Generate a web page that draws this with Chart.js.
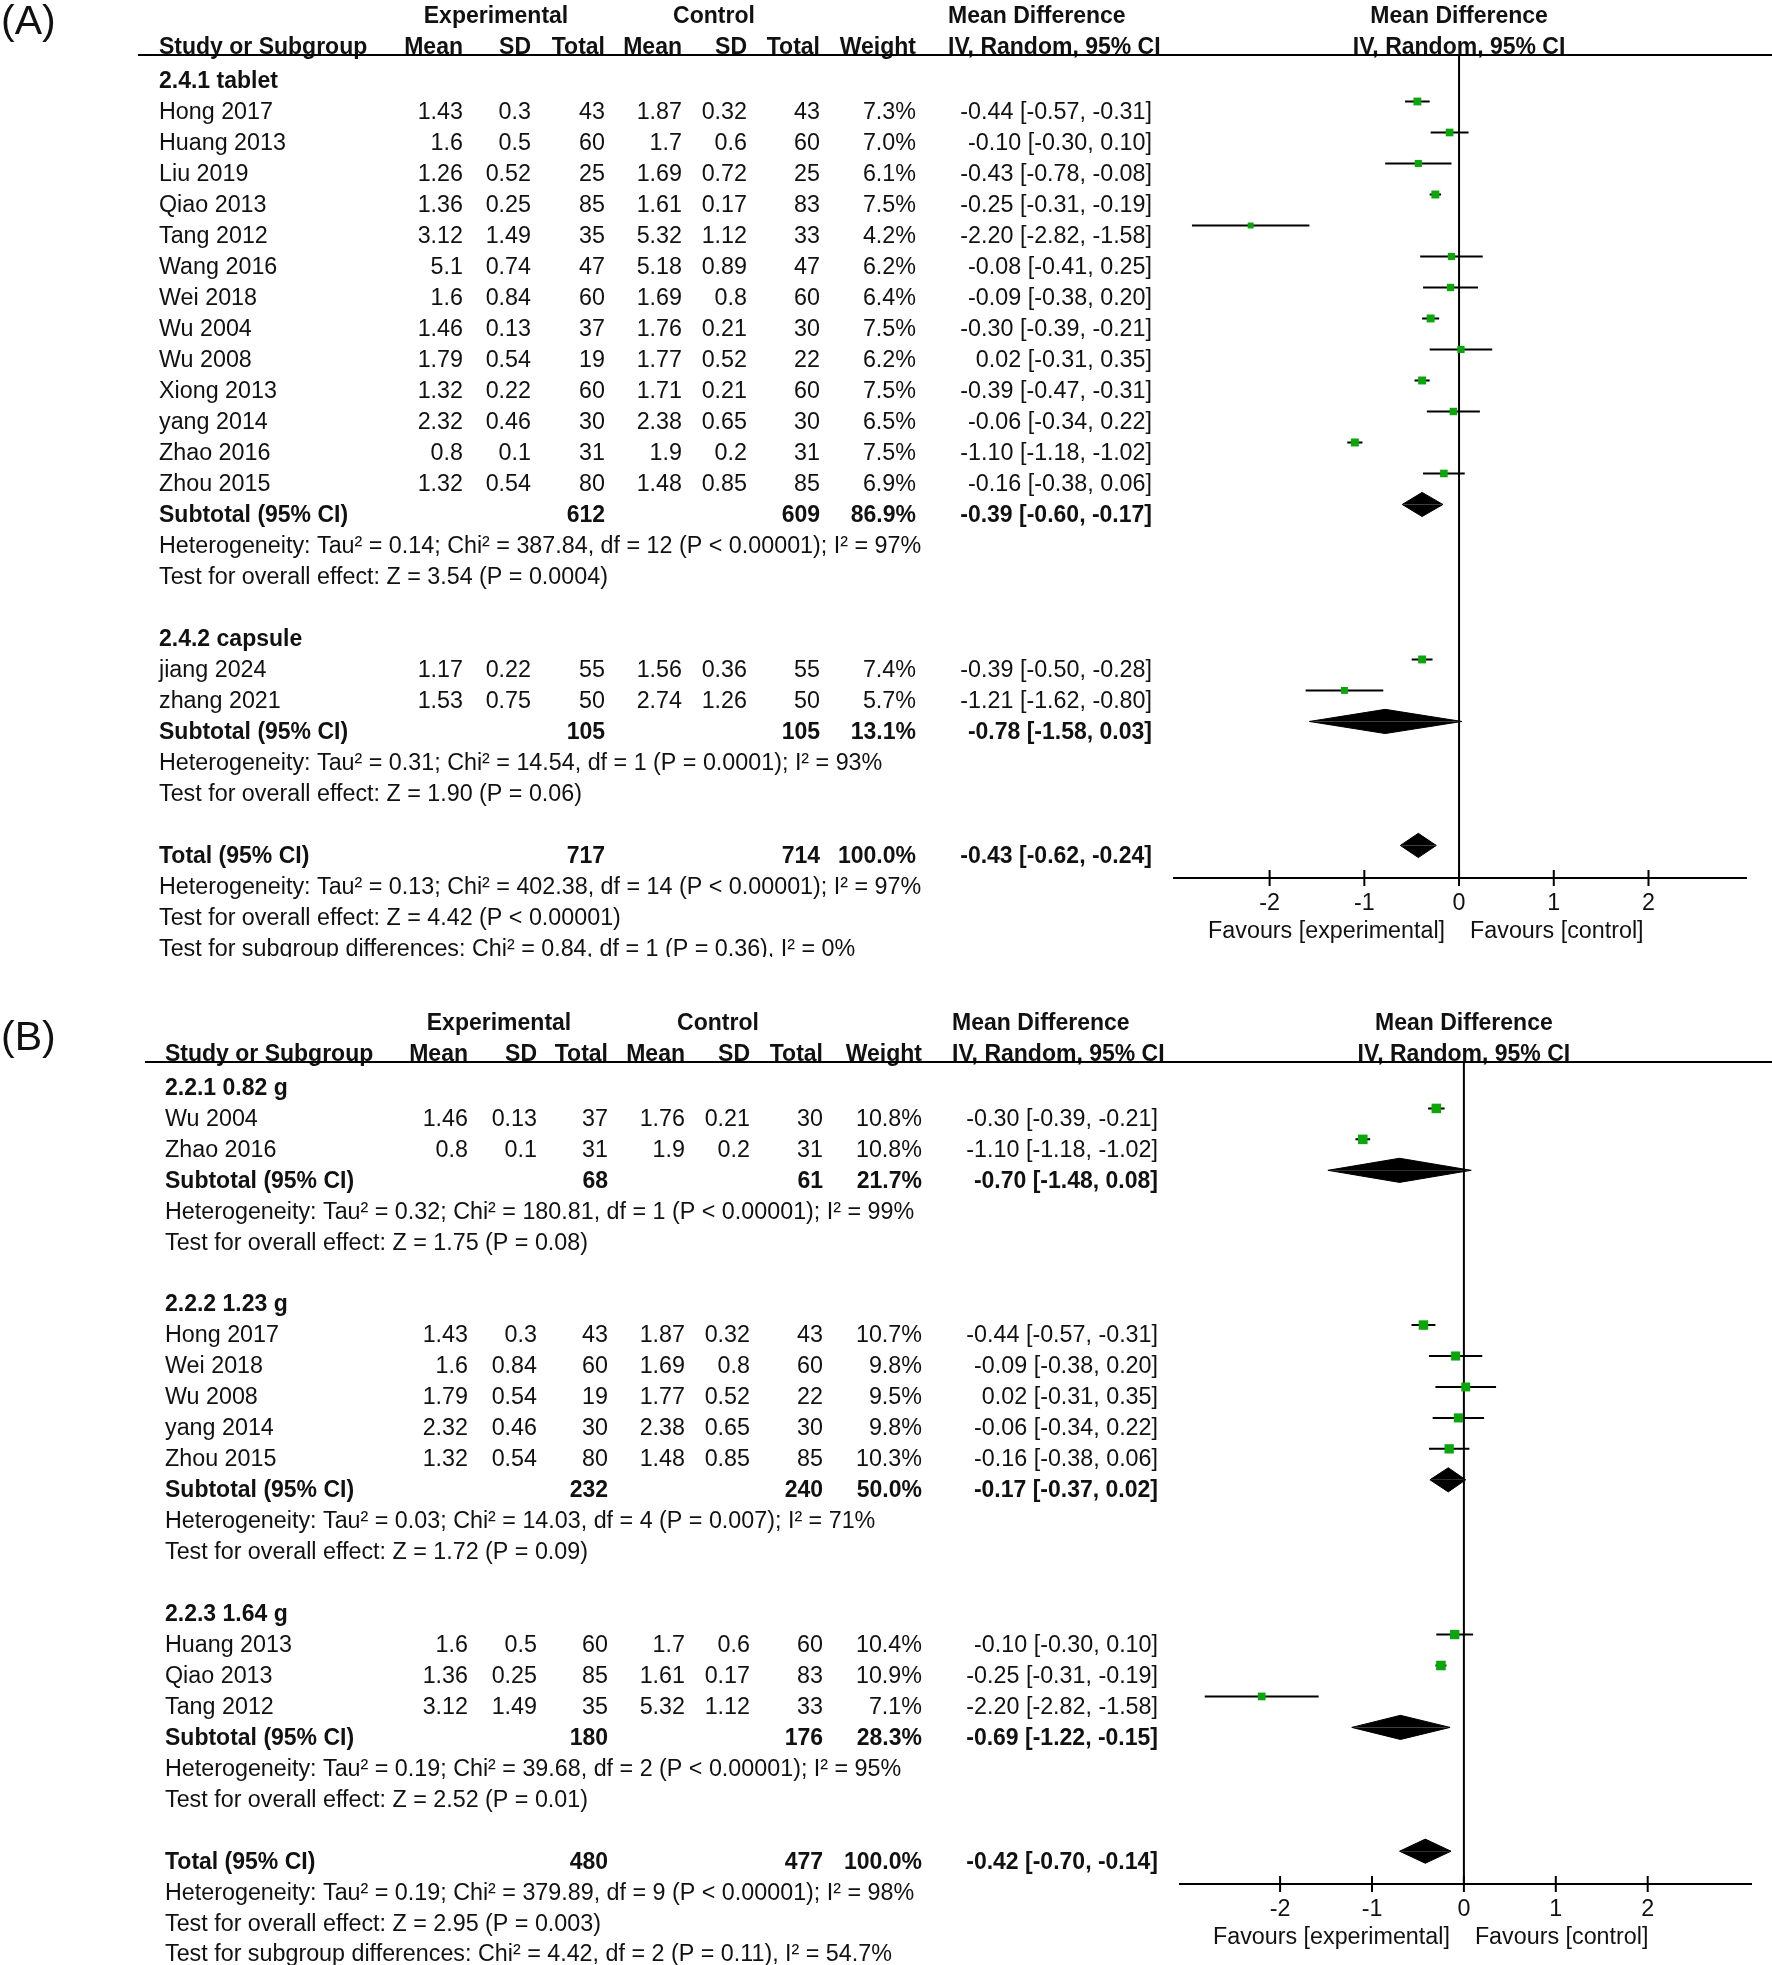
<!DOCTYPE html>
<html><head><meta charset="utf-8">
<script src="https://cdn.jsdelivr.net/npm/chart.js@4.4.1/dist/chart.umd.min.js"></script>
<style>
html,body{margin:0;padding:0;background:#fff;}
body{width:1772px;height:1965px;position:relative;overflow:hidden;}
canvas{position:absolute;left:0;}
#cA{top:0;} #cB{top:983px;}
</style></head><body>
<canvas id="cA" width="1772" height="957"></canvas>
<canvas id="cB" width="1772" height="982"></canvas>
<script>
// ---------- shared labels ----------
const tickValues = [-2, -1, 0, 1, 2];
const favoursLabels = ['Favours [experimental]', 'Favours [control]'];
const headerGroups = ['Experimental', 'Control'];
const colHeaders = ['Mean', 'SD', 'Total', 'Mean', 'SD', 'Total', 'Weight'];
const effectHeader = ['Mean Difference', 'IV, Random, 95% CI'];
const studyHeader = 'Study or Subgroup';

// ---------- Panel A data ----------
const studyA   = ['Hong 2017','Huang 2013','Liu 2019','Qiao 2013','Tang 2012','Wang 2016','Wei 2018','Wu 2004','Wu 2008','Xiong 2013','yang 2014','Zhao 2016','Zhou 2015','jiang 2024','zhang 2021'];
const groupA   = [0,0,0,0,0,0,0,0,0,0,0,0,0,1,1];
const expMeanA = [1.43,1.6,1.26,1.36,3.12,5.1,1.6,1.46,1.79,1.32,2.32,0.8,1.32,1.17,1.53];
const expSDA   = [0.3,0.5,0.52,0.25,1.49,0.74,0.84,0.13,0.54,0.22,0.46,0.1,0.54,0.22,0.75];
const expNA    = [43,60,25,85,35,47,60,37,19,60,30,31,80,55,50];
const ctlMeanA = [1.87,1.7,1.69,1.61,5.32,5.18,1.69,1.76,1.77,1.71,2.38,1.9,1.48,1.56,2.74];
const ctlSDA   = [0.32,0.6,0.72,0.17,1.12,0.89,0.8,0.21,0.52,0.21,0.65,0.2,0.85,0.36,1.26];
const ctlNA    = [43,60,25,83,33,47,60,30,22,60,30,31,85,55,50];
const weightA  = [7.3,7.0,6.1,7.5,4.2,6.2,6.4,7.5,6.2,7.5,6.5,7.5,6.9,7.4,5.7];
const mdA      = [-0.44,-0.10,-0.43,-0.25,-2.20,-0.08,-0.09,-0.30,0.02,-0.39,-0.06,-1.10,-0.16,-0.39,-1.21];
const loA      = [-0.57,-0.30,-0.78,-0.31,-2.82,-0.41,-0.38,-0.39,-0.31,-0.47,-0.34,-1.18,-0.38,-0.50,-1.62];
const hiA      = [-0.31,0.10,-0.08,-0.19,-1.58,0.25,0.20,-0.21,0.35,-0.31,0.22,-1.02,0.06,-0.28,-0.80];
const subLabelA  = ['2.4.1 tablet','2.4.2 capsule'];
const subExpNA   = [612,105];
const subCtlNA   = [609,105];
const subWeightA = [86.9,13.1];
const subMdA     = [-0.39,-0.78];
const subLoA     = [-0.60,-1.58];
const subHiA     = [-0.17,0.03];
const subHetA  = ['Heterogeneity: Tau² = 0.14; Chi² = 387.84, df = 12 (P < 0.00001); I² = 97%','Heterogeneity: Tau² = 0.31; Chi² = 14.54, df = 1 (P = 0.0001); I² = 93%'];
const subTestA = ['Test for overall effect: Z = 3.54 (P = 0.0004)','Test for overall effect: Z = 1.90 (P = 0.06)'];
const totalNA   = [717,714];
const totalEffA = [-0.43,-0.62,-0.24];
const totalTextA = ['Heterogeneity: Tau² = 0.13; Chi² = 402.38, df = 14 (P < 0.00001); I² = 97%','Test for overall effect: Z = 4.42 (P < 0.00001)','Test for subgroup differences: Chi² = 0.84, df = 1 (P = 0.36), I² = 0%'];

// ---------- Panel B data ----------
const studyB   = ['Wu 2004','Zhao 2016','Hong 2017','Wei 2018','Wu 2008','yang 2014','Zhou 2015','Huang 2013','Qiao 2013','Tang 2012'];
const groupB   = [0,0,1,1,1,1,1,2,2,2];
const expMeanB = [1.46,0.8,1.43,1.6,1.79,2.32,1.32,1.6,1.36,3.12];
const expSDB   = [0.13,0.1,0.3,0.84,0.54,0.46,0.54,0.5,0.25,1.49];
const expNB    = [37,31,43,60,19,30,80,60,85,35];
const ctlMeanB = [1.76,1.9,1.87,1.69,1.77,2.38,1.48,1.7,1.61,5.32];
const ctlSDB   = [0.21,0.2,0.32,0.8,0.52,0.65,0.85,0.6,0.17,1.12];
const ctlNB    = [30,31,43,60,22,30,85,60,83,33];
const weightB  = [10.8,10.8,10.7,9.8,9.5,9.8,10.3,10.4,10.9,7.1];
const mdB      = [-0.30,-1.10,-0.44,-0.09,0.02,-0.06,-0.16,-0.10,-0.25,-2.20];
const loB      = [-0.39,-1.18,-0.57,-0.38,-0.31,-0.34,-0.38,-0.30,-0.31,-2.82];
const hiB      = [-0.21,-1.02,-0.31,0.20,0.35,0.22,0.06,0.10,-0.19,-1.58];
const subLabelB  = ['2.2.1 0.82 g','2.2.2 1.23 g','2.2.3 1.64 g'];
const subExpNB   = [68,232,180];
const subCtlNB   = [61,240,176];
const subWeightB = [21.7,50.0,28.3];
const subMdB     = [-0.70,-0.17,-0.69];
const subLoB     = [-1.48,-0.37,-1.22];
const subHiB     = [0.08,0.02,-0.15];
const subHetB  = ['Heterogeneity: Tau² = 0.32; Chi² = 180.81, df = 1 (P < 0.00001); I² = 99%','Heterogeneity: Tau² = 0.03; Chi² = 14.03, df = 4 (P = 0.007); I² = 71%','Heterogeneity: Tau² = 0.19; Chi² = 39.68, df = 2 (P < 0.00001); I² = 95%'];
const subTestB = ['Test for overall effect: Z = 1.75 (P = 0.08)','Test for overall effect: Z = 1.72 (P = 0.09)','Test for overall effect: Z = 2.52 (P = 0.01)'];
const totalNB   = [480,477];
const totalEffB = [-0.42,-0.70,-0.14];
const totalTextB = ['Heterogeneity: Tau² = 0.19; Chi² = 379.89, df = 9 (P < 0.00001); I² = 98%','Test for overall effect: Z = 2.95 (P = 0.003)','Test for subgroup differences: Chi² = 4.42, df = 2 (P = 0.11), I² = 54.7%'];

// ---------- layout (positions / styles only) ----------
const FONT = '"Liberation Sans", Arial, Helvetica, sans-serif';
const FS_BOLD = 23, FS_REG = 23.3;
const layoutA = {canvas:'cA', label:'(A)', labelY:23, nameX:159, colX:[463,531,605,682,747,820,916], ciRight:1152,
  mdLeft:948, expCenter:496, ctlCenter:714, lineX:138, headY1:17, headY2:47.5, textOff:11,
  xMin:-3.02, xMax:3.04, yMin:-0.5, yMax:26.05, pad:{left:1173,right:25,top:55,bottom:79}, sq:2.9, dh:0.39};
const layoutB = {canvas:'cB', label:'(B)', labelY:56, nameX:165, colX:[468,537,608,685,750,823,922], ciRight:1158,
  mdLeft:952, expCenter:499, ctlCenter:718, lineX:145, headY1:41, headY2:71.5, textOff:11,
  xMin:-3.1, xMax:3.135, yMin:-0.5, yMax:26.06, pad:{left:1179,right:20,top:79,bottom:81}, sq:2.9, dh:0.39};

function f2(v){ return v.toFixed(2); }
function ciText(m,l,h){ return f2(m)+' ['+f2(l)+', '+f2(h)+']'; }

function buildPanel(L, D) {
  const rows = []; let r = 0;
  D.subLabel.forEach((lab, g) => {
    rows.push({t:'group', g, r:r++});
    D.group.forEach((gg, i) => { if (gg === g) rows.push({t:'study', i, r:r++}); });
    rows.push({t:'sub', g, r:r++});
    rows.push({t:'text', s:D.subHet[g], r:r++});
    rows.push({t:'text', s:D.subTest[g], r:r++});
    r++;
  });
  rows.push({t:'total', r:r++});
  D.totalText.forEach(s => rows.push({t:'text', s, r:r++}));

  const studyRow = [], subRow = [];
  rows.forEach(o => { if (o.t === 'study') studyRow[o.i] = o.r; if (o.t === 'sub') subRow[o.g] = o.r; });
  const totalRow = rows.find(o => o.t === 'total').r;

  const ciData = [];
  D.md.forEach((m, i) => { ciData.push({x:D.lo[i], y:studyRow[i]}, {x:D.hi[i], y:studyRow[i]}, {x:null, y:null}); });
  const sqData = D.md.map((m, i) => ({x:m, y:studyRow[i]}));
  const sqRadius = D.weight.map(w => L.sq * Math.sqrt(w) / (2 * Math.SQRT1_2));

  const datasets = [];
  datasets.push({label:'Studies', type:'scatter', data:sqData, pointStyle:'rect', pointRadius:sqRadius,
    backgroundColor:'#0aa60a', pointBorderWidth:0, borderWidth:0, showLine:false, order:0, clip:false});
  datasets.push({label:'95% CI', data:ciData, showLine:true, borderColor:'#000', borderWidth:2, pointRadius:0,
    order:1, clip:false, spanGaps:false});
  datasets.push({label:'No effect', data:[{x:0, y:L.yMin}, {x:0, y:L.yMax}], showLine:true, borderColor:'#000',
    borderWidth:2, pointRadius:0, order:2, clip:false});
  const summaries = D.subMd.map((m, g) => ({m, lo:D.subLo[g], hi:D.subHi[g], r:subRow[g]}));
  summaries.push({m:D.totalEff[0], lo:D.totalEff[1], hi:D.totalEff[2], r:totalRow});
  summaries.forEach(s => {
    [-1, 1].forEach(sign => {
      datasets.push({label:'Pooled', data:[{x:s.lo, y:s.r}, {x:s.m, y:s.r + sign * L.dh}, {x:s.hi, y:s.r}],
        showLine:true, fill:{value:s.r}, backgroundColor:'#000', borderColor:'#000', borderWidth:1,
        pointRadius:0, order:1, clip:false});
    });
  });

  const tablePlugin = {
    id:'table',
    afterDraw(chart) {
      const ctx = chart.ctx, xs = chart.scales.x, ys = chart.scales.y, ca = chart.chartArea;
      const reg = FS_REG + 'px ' + FONT, bold = 'bold ' + FS_BOLD + 'px ' + FONT;
      ctx.save();
      ctx.fillStyle = '#111'; ctx.textBaseline = 'middle';
      function txt(s, x, y, align, b) { ctx.font = b ? bold : reg; ctx.textAlign = align; ctx.fillText(String(s), x, y); }
      ctx.font = '41px ' + FONT; ctx.textAlign = 'left'; ctx.fillText(L.label, 1, L.labelY);
      // headers
      txt(headerGroups[0], L.expCenter, L.headY1, 'center', true);
      txt(headerGroups[1], L.ctlCenter, L.headY1, 'center', true);
      txt(effectHeader[0], L.mdLeft, L.headY1, 'left', true);
      txt(studyHeader, L.nameX, L.headY2, 'left', true);
      colHeaders.forEach((h, k) => txt(h, L.colX[k], L.headY2, 'right', true));
      txt(effectHeader[1], L.mdLeft, L.headY2, 'left', true);
      const x0 = xs.getPixelForValue(0);
      txt(effectHeader[0], x0, L.headY1, 'center', true);
      txt(effectHeader[1], x0, L.headY2, 'center', true);
      ctx.strokeStyle = '#000'; ctx.lineWidth = 2;
      ctx.beginPath(); ctx.moveTo(L.lineX, ca.top); ctx.lineTo(chart.width, ca.top); ctx.stroke();
      // rows
      rows.forEach(o => {
        const y = ys.getPixelForValue(o.r) + L.textOff;
        if (o.t === 'group') txt(D.subLabel[o.g], L.nameX, y, 'left', true);
        else if (o.t === 'study') {
          const i = o.i;
          txt(D.study[i], L.nameX, y, 'left', false);
          const vals = [D.expMean[i], D.expSD[i], D.expN[i], D.ctlMean[i], D.ctlSD[i], D.ctlN[i], D.weight[i].toFixed(1) + '%'];
          vals.forEach((v, k) => txt(v, L.colX[k], y, 'right', false));
          txt(ciText(D.md[i], D.lo[i], D.hi[i]), L.ciRight, y, 'right', false);
        } else if (o.t === 'sub') {
          const g = o.g;
          txt('Subtotal (95% CI)', L.nameX, y, 'left', true);
          txt(D.subExpN[g], L.colX[2], y, 'right', true);
          txt(D.subCtlN[g], L.colX[5], y, 'right', true);
          txt(D.subWeight[g].toFixed(1) + '%', L.colX[6], y, 'right', true);
          txt(ciText(D.subMd[g], D.subLo[g], D.subHi[g]), L.ciRight, y, 'right', true);
        } else if (o.t === 'total') {
          txt('Total (95% CI)', L.nameX, y, 'left', true);
          txt(D.totalN[0], L.colX[2], y, 'right', true);
          txt(D.totalN[1], L.colX[5], y, 'right', true);
          txt((100).toFixed(1) + '%', L.colX[6], y, 'right', true);
          txt(ciText(D.totalEff[0], D.totalEff[1], D.totalEff[2]), L.ciRight, y, 'right', true);
        } else if (o.t === 'text') txt(o.s, L.nameX, y, 'left', false);
      });
      // axis
      const ay = ca.bottom;
      ctx.beginPath(); ctx.moveTo(ca.left, ay); ctx.lineTo(ca.right, ay); ctx.stroke();
      tickValues.forEach(v => {
        const x = xs.getPixelForValue(v);
        ctx.beginPath(); ctx.moveTo(x, ay - 8); ctx.lineTo(x, ay + 8); ctx.stroke();
        txt(v, x, ay + 26, 'center', false);
      });
      txt(favoursLabels[0], x0 - 14, ay + 54, 'right', false);
      txt(favoursLabels[1], x0 + 11, ay + 54, 'left', false);
      ctx.restore();
    }
  };

  return new Chart(document.getElementById(L.canvas), {
    type:'scatter',
    data:{datasets},
    options:{
      responsive:false, animation:false, devicePixelRatio:1, events:[],
      layout:{padding:L.pad},
      plugins:{legend:{display:false}, tooltip:{enabled:false}},
      scales:{
        x:{type:'linear', min:L.xMin, max:L.xMax, display:false},
        y:{type:'linear', min:L.yMin, max:L.yMax, reverse:true, display:false}
      }
    },
    plugins:[tablePlugin]
  });
}

buildPanel(layoutA, {study:studyA, group:groupA, expMean:expMeanA, expSD:expSDA, expN:expNA, ctlMean:ctlMeanA,
  ctlSD:ctlSDA, ctlN:ctlNA, weight:weightA, md:mdA, lo:loA, hi:hiA, subLabel:subLabelA, subExpN:subExpNA,
  subCtlN:subCtlNA, subWeight:subWeightA, subMd:subMdA, subLo:subLoA, subHi:subHiA, subHet:subHetA,
  subTest:subTestA, totalN:totalNA, totalEff:totalEffA, totalText:totalTextA});
buildPanel(layoutB, {study:studyB, group:groupB, expMean:expMeanB, expSD:expSDB, expN:expNB, ctlMean:ctlMeanB,
  ctlSD:ctlSDB, ctlN:ctlNB, weight:weightB, md:mdB, lo:loB, hi:hiB, subLabel:subLabelB, subExpN:subExpNB,
  subCtlN:subCtlNB, subWeight:subWeightB, subMd:subMdB, subLo:subLoB, subHi:subHiB, subHet:subHetB,
  subTest:subTestB, totalN:totalNB, totalEff:totalEffB, totalText:totalTextB});
</script>
</body></html>
